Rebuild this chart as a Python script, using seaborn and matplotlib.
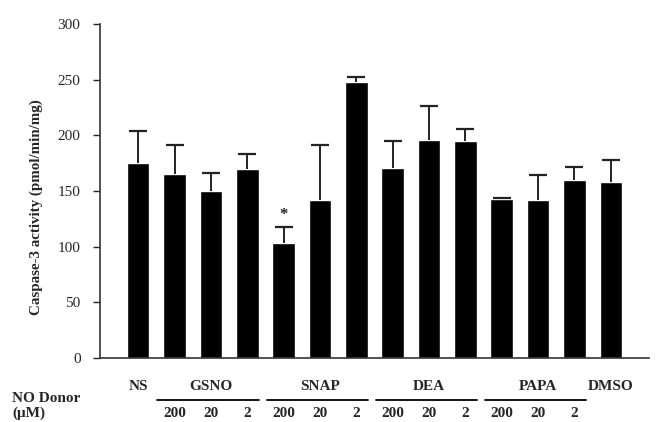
import pandas as pd
import numpy as np
import matplotlib
matplotlib.use('Agg')
import matplotlib.pyplot as plt
import matplotlib.transforms as mtransforms
import seaborn as sns

# Data
donors = ['NS', 'GSNO', 'GSNO', 'GSNO', 'SNAP', 'SNAP', 'SNAP',
          'DEA', 'DEA', 'DEA', 'PAPA', 'PAPA', 'PAPA', 'DMSO']
doses = ['', '200', '20', '2', '200', '20', '2',
         '200', '20', '2', '200', '20', '2', '']
activity = [175, 165, 150, 170, 103, 142, 248, 171, 196, 195, 143, 142, 160, 158]
err_upper = [29, 26, 16, 13, 15, 49, 4, 24, 30, 11, 1, 22, 12, 20]
group_names = ['NS', 'GSNO', 'SNAP', 'DEA', 'PAPA', 'DMSO']
yticks = [0, 50, 100, 150, 200, 250, 300]

df = pd.DataFrame({
    'condition': [f'{d} {c}'.strip() for d, c in zip(donors, doses)],
    'activity': activity,
})

sns.set_style('white')
plt.rcParams['font.family'] = ['Liberation Serif', 'DejaVu Serif']

fig = plt.figure(figsize=(6.59, 4.22), dpi=100)
ax = fig.add_axes([100 / 659, 64 / 422, 549 / 659, 334 / 422])

sns.barplot(data=df, x='condition', y='activity', color='black',
            saturation=1, width=0.62, ax=ax)
x = np.arange(len(activity))
tops = np.array(activity) + np.array(err_upper)
# upper-only error bars: stem plus a cap at the top
ax.errorbar(x, activity, yerr=[np.zeros(len(err_upper)), err_upper], fmt='none',
            ecolor='#222222', elinewidth=1.4, capsize=0)
ax.plot(x, tops, linestyle='none', marker='_', markersize=13,
        markeredgewidth=1.6, color='#222222')

# significance marker above SNAP 200
ax.text(4, 128, '*', ha='center', va='center', fontsize=12, fontweight='bold')

ax.set_ylim(0, 300)
ax.set_xlim(-1.05, 14.05)
ax.set_yticks(yticks)
ax.set_yticklabels([str(t) for t in yticks], fontsize=11)
ax.set_xticks([])
ax.set_xlabel('')
ax.set_ylabel('Caspase-3 activity (pmol/min/mg)', fontsize=10.8, fontweight='bold')
ax.yaxis.set_label_coords(-0.104, 0.452)
ax.tick_params(axis='y', direction='out', length=5, width=1, left=True, pad=9)
for s in ['top', 'right']:
    ax.spines[s].set_visible(False)
for s in ['left', 'bottom']:
    ax.spines[s].set_color('#333333')
    ax.spines[s].set_linewidth(1.2)

trans = mtransforms.blended_transform_factory(ax.transData, ax.transAxes)
# group labels and underlines
for g in group_names:
    idx = [i for i, d in enumerate(donors) if d == g]
    xc = np.mean(idx)
    ax.text(xc, -0.084, g, transform=trans, ha='center', va='center',
            fontsize=11, fontweight='bold')
    if len(idx) > 1:
        ax.plot([idx[0] - 0.47, idx[-1] + 0.32], [-0.126, -0.126], transform=trans,
                color='black', lw=1.3, clip_on=False)
for i, d in enumerate(doses):
    if d:
        ax.text(i, -0.166, d, transform=trans, ha='center', va='center',
                fontsize=11, fontweight='bold')

fig.text(12 / 659, 1 - 398 / 422, 'NO Donor', ha='left', va='center',
         fontsize=11, fontweight='bold')
fig.text(12 / 659, 1 - 413 / 422, '(\u03bcM)', ha='left', va='center',
         fontsize=11, fontweight='bold')

fig.savefig('out.png', dpi=100)
plt.close(fig)
